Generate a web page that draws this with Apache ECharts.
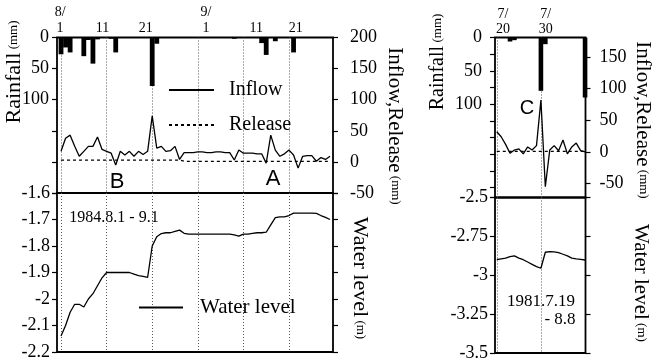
<!DOCTYPE html>
<html><head><meta charset="utf-8">
<script src="https://cdn.jsdelivr.net/npm/echarts@6/dist/echarts.min.js"></script>
<style>html,body{margin:0;padding:0;background:#fff}#c{width:666px;height:362px}</style>
</head><body><div id="c"></div>
<script>
// ===== 1984.8.1 - 9.29 (day 1 = Aug 1) =====
const days1984 = [1,2,3,4,5,6,7,8,9,10,11,12,13,14,15,16,17,18,19,20,21,22,23,24,25,26,27,28,29,30,
  31,32,33,34,35,36,37,38,39,40,41,42,43,44,45,46,47,48,49,50,51,52,53,54,55,56,57,58,59,60];
const rain1984 = [27,16,24,0,0,30,4,42,3,0,0,2,24,0,0,0,0,0,0,0,78,10,0,0,0,0,0,0,0,0,
  0,0,0,0,0,0,0,0,2,0,0,0,0,0,9,28,0,6,0,0,0,24,0,0,0,0,0,0,0,0];
const inflow1984 = [17,38,43,25,9,17,25,25,40,20,17,14,-5,17,11,17,9,17,12,17,74,22,25,17,18,25,4,15,15,15,
  16,16,15,15,16,16,15,15,3,19,14,14,14,13,13,-2,43,19,9,13,19,11,-10,9,10,10,1,7,4,9];
const release1984 = [3,3,3,3,3,3,3,3,3,3,3,3,3,3,3,3,3,3,3,3,3,3,3,3,3,3,3,1,1,1,
  1,1,1,1,1,1,1,1,1,1,1,1,1,1,1,1,1,1,1,1,1,1,1,1,1,1,1,1,1,1];
const level1984 = [-2.14,-2.10,-2.05,-2.02,-2.02,-2.03,-2.00,-1.98,-1.95,-1.92,-1.90,-1.90,-1.90,-1.90,-1.90,-1.90,-1.906,-1.912,-1.915,-1.918,
  -1.80,-1.765,-1.753,-1.75,-1.75,-1.745,-1.74,-1.752,-1.755,-1.755,-1.755,-1.755,-1.755,-1.755,-1.755,-1.755,-1.755,-1.755,-1.758,-1.763,
  -1.755,-1.755,-1.752,-1.75,-1.75,-1.748,-1.72,-1.693,-1.69,-1.69,-1.685,-1.676,-1.676,-1.676,-1.676,-1.676,-1.677,-1.685,-1.692,-1.70];
const gridDays1984 = [1,11,21,31,41,51];
const labelDays1984 = [0.8,10.1,19.6,32.8,43.8,52.5];
const dateLabels1984 = ['8/\n1','11','21','9/\n1','11','21'];

// ===== 1981.7.19 - 8.8 (July day numbers) =====
const days1981 = [20,21,22,23,24,25,26,27,28,29,30,31,32,33,34,35,36,37,38,39,40];
const rain1981 = [0,0,0,6,4,0,0,0,0,0,80,10,0,0,0,0,0,0,0,0,90];
const inflow1981 = [32,24,12,-2,3,5,-3,8,3,10,82,-55,3,10,2,19,-3,8,14,2,0];
const release1981 = [1,1,1,1,1,1,1,1,1,1,1,1,1,1,1,1,1,1,1,1,1];
const level1981 = [-2.90,-2.895,-2.89,-2.88,-2.875,-2.89,-2.90,-2.915,-2.93,-2.945,-2.955,-2.852,-2.848,-2.85,-2.855,-2.865,-2.875,-2.89,-2.895,-2.898,-2.902];
const gridDays1981 = [20,30];
const labelDays1981 = [21.4,31.1];
const dateLabels1981 = ['7/\n20','7/\n30'];

const zip = (xs, ys) => xs.map((x, i) => [x, ys[i]]);
const SERIF = '"Liberation Serif","Times New Roman",serif';
const SANS = '"Liberation Sans",Arial,sans-serif';

const chart = echarts.init(document.getElementById('c'), null, {renderer:'canvas'});
const gridBox = {show:true, borderColor:'#000', borderWidth:1.8, backgroundColor:'transparent'};
const dotted = {show:true, lineStyle:{type:[1,2], color:'#555', width:1}};
const tick = {show:true, length:5, lineStyle:{color:'#000', width:1.2}};
const lbl = {fontFamily:SERIF, fontSize:18, color:'#000'};
const noLine = {show:false};
const lineS = {color:'#000', width:1.3};

function xTop(gi, min, max, gridDays, labelDays, labels, lh) {
  return {gridIndex:gi, type:'value', min:min, max:max, position:'top', axisLine:noLine,
    axisTick:{show:false, customValues:gridDays}, splitLine:dotted,
    axisLabel:{customValues:labelDays, formatter:v => labels[labelDays.indexOf(v)] || '',
      fontFamily:SERIF, fontSize:14, lineHeight:lh, color:'#000', margin:1}};
}
function xBottom(gi, min, max, gridDays) {
  return {gridIndex:gi, type:'value', min:min, max:max, axisLine:noLine,
    axisTick:{show:false, customValues:gridDays}, axisLabel:{show:false}, splitLine:dotted};
}
function vtext(x, y, rot, main, unit, size) {
  return {type:'text', x:x, y:y, rotation:rot, silent:true,
    style:{text:'{a|' + main + '} {b|' + unit + '}',
      rich:{a:{fontFamily:SERIF, fontSize:size, fill:'#000'}, b:{fontFamily:SERIF, fontSize:13, fill:'#000'}},
      align:'center', verticalAlign:'middle', textAlign:'center', textVerticalAlign:'middle', fill:'#000'}};
}
function text(x, y, s, font, size) {
  return {type:'text', x:x, y:y, silent:true,
    style:{text:s, fontFamily:font, fontSize:size, fill:'#000', align:'center', verticalAlign:'middle',
      textAlign:'center', textVerticalAlign:'middle'}};
}
const legendBase = {padding:0, itemHeight:14, selectedMode:false, itemStyle:{opacity:0},
  textStyle:{fontFamily:SERIF, fontSize:20, color:'#000', padding:[0,0,0,10]}};

chart.setOption({
  animation:false,
  grid:[
    {left:57, top:37.5, width:276, height:155.5, ...gridBox},
    {left:57, top:193, width:276, height:159, ...gridBox},
    {left:495, top:37.5, width:90.5, height:160, ...gridBox},
    {left:495, top:197.5, width:90.5, height:155.5, ...gridBox}
  ],
  xAxis:[
    xTop(0, 0.12, 60.65, gridDays1984, labelDays1984, dateLabels1984, 16),
    xBottom(1, 0.12, 60.65, gridDays1984),
    xTop(2, 19.6, 40.1, gridDays1981, labelDays1981, dateLabels1981, 15),
    xBottom(3, 19.6, 40.1, gridDays1981)
  ],
  yAxis:[
    {gridIndex:0, type:'value', inverse:true, min:0, max:250, interval:50, position:'left',
      axisLine:noLine, axisTick:tick, splitLine:noLine,
      axisLabel:{...lbl, margin:8, formatter:v => v <= 100 ? String(v) : ''}},
    {gridIndex:0, type:'value', min:-50, max:200, interval:50, position:'right',
      axisLine:noLine, axisTick:tick, splitLine:noLine, axisLabel:{...lbl, margin:17}},
    {gridIndex:1, type:'value', min:-2.2, max:-1.6, interval:0.1, position:'left',
      axisLine:noLine, axisTick:tick, splitLine:noLine, axisLabel:{...lbl, margin:7}},
    {gridIndex:1, type:'value', min:-2.2, max:-1.6, interval:0.1, position:'right',
      axisLine:noLine, axisTick:tick, splitLine:noLine, axisLabel:{show:false}},
    {gridIndex:2, type:'value', inverse:true, min:0, max:240, interval:25, position:'left',
      axisLine:noLine, axisTick:tick, splitLine:noLine,
      axisLabel:{...lbl, margin:13, formatter:v => (v % 50 === 0 && v <= 100) ? String(v) : ''}},
    {gridIndex:2, type:'value', min:-72, max:181, minInterval:50, maxInterval:50, position:'right',
      axisLine:noLine, axisTick:tick, splitLine:noLine,
      axisLabel:{...lbl, margin:14, showMinLabel:false, showMaxLabel:false}},
    {gridIndex:3, type:'value', min:-3.5, max:-2.5, interval:0.25, position:'left',
      axisLine:noLine, axisTick:tick, splitLine:noLine, axisLabel:{...lbl, margin:7}},
    {gridIndex:3, type:'value', min:-3.5, max:-2.5, interval:0.25, position:'right',
      axisLine:noLine, axisTick:tick, splitLine:noLine, axisLabel:{show:false}}
  ],
  legend:[
    {...legendBase, data:['Inflow'], left:168, top:80, itemWidth:45},
    {...legendBase, data:['Release'], left:168, top:115, itemWidth:45},
    {...legendBase, data:['Water level'], left:138, top:297, itemWidth:44,
      textStyle:{fontFamily:SERIF, fontSize:21, color:'#000', padding:[0,0,0,12]}}
  ],
  series:[
    {type:'bar', xAxisIndex:0, yAxisIndex:0, data:zip(days1984, rain1984), barWidth:4.8, itemStyle:{color:'#000'}, silent:true},
    {name:'Inflow', type:'line', xAxisIndex:0, yAxisIndex:1, data:zip(days1984, inflow1984), symbol:'none', lineStyle:lineS, silent:true},
    {name:'Release', type:'line', xAxisIndex:0, yAxisIndex:1, data:zip(days1984, release1984), symbol:'none', lineStyle:{...lineS, type:[3,3]}, silent:true},
    {name:'Water level', type:'line', xAxisIndex:1, yAxisIndex:2, data:zip(days1984, level1984), symbol:'none', lineStyle:lineS, silent:true},
    {type:'bar', xAxisIndex:2, yAxisIndex:4, data:zip(days1981, rain1981), barWidth:4.6, itemStyle:{color:'#000'}, silent:true},
    {name:'Inflow', type:'line', xAxisIndex:2, yAxisIndex:5, data:zip(days1981, inflow1981), symbol:'none', lineStyle:lineS, silent:true},
    {name:'Release', type:'line', xAxisIndex:2, yAxisIndex:5, data:zip(days1981, release1981), symbol:'none', lineStyle:{...lineS, type:[3,3]}, silent:true},
    {name:'Water level', type:'line', xAxisIndex:3, yAxisIndex:6, data:zip(days1981, level1981), symbol:'none', lineStyle:lineS, silent:true}
  ],
  graphic:[
    vtext(14, 72, Math.PI/2, 'Rainfall', '(mm)', 22),
    vtext(438, 62, Math.PI/2, 'Rainfall', '(mm)', 20),
    vtext(395, 126, -Math.PI/2, 'Inflow,Release', '(mm)', 21),
    vtext(360, 278, -Math.PI/2, 'Water level', '(m)', 22),
    vtext(643, 120, -Math.PI/2, 'Inflow,Release', '(mm)', 21),
    vtext(641, 283, -Math.PI/2, 'Water level', '(m)', 21),
    text(117, 182, 'B', SANS, 22),
    text(273, 179, 'A', SANS, 22),
    text(527, 108, 'C', SANS, 20),
    text(114, 218, '1984.8.1 - 9.1', SERIF, 16),
    text(541, 302, '1981.7.19', SERIF, 17),
    text(560, 320, '- 8.8', SERIF, 17)
  ]
});
</script></body></html>
